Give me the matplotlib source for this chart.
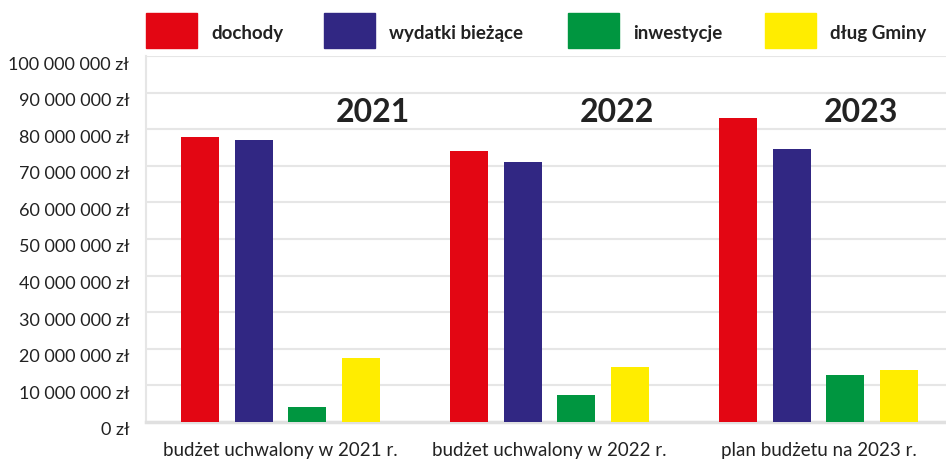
import numpy as np
import matplotlib.pyplot as plt
import matplotlib.transforms as mtransforms
from matplotlib.patches import Rectangle
from matplotlib.ticker import FuncFormatter


# data
categories = ["budżet uchwalony w 2021 r.", "budżet uchwalony w 2022 r.", "plan budżetu na 2023 r."]
years = ["2021", "2022", "2023"]
series_names = ["dochody", "wydatki bieżące", "inwestycje", "dług Gminy"]
dochody = [78.0e6, 74.0e6, 83.0e6]
wydatki = [77.0e6, 71.0e6, 74.6e6]
inwestycje = [4.2e6, 7.4e6, 12.8e6]
dlug = [17.5e6, 15.0e6, 14.2e6]

colors = ["#E30613", "#312783", "#009640", "#FFED00"]
TXT = "#222222"

plt.rcParams['font.family'] = ['Lato', 'DejaVu Sans']

fig = plt.figure(figsize=(9.46, 4.6), dpi=100)
W, H = 946, 460
ax = fig.add_axes([146 / W, 37 / H, 800 / W, 366 / H])

x = np.arange(len(categories))
width = 0.141
step = 0.2
for i, vals in enumerate([dochody, wydatki, inwestycje, dlug]):
    ax.bar(x + (i - 1.5) * step, vals, width, color=colors[i], zorder=3)

# year labels (axes fraction positions)
year_pos = [0.284, 0.589, 0.894]
for xp, yr in zip(year_pos, years):
    ax.text(xp, 0.847, yr, transform=ax.transAxes, fontsize=23,
            fontweight='bold', color=TXT, ha='center', va='center')

ax.set_xlim(-0.5, -0.5 + 800 / 269)
ax.set_ylim(0, 100e6)
ax.set_yticks(np.arange(0, 100e6 + 1, 10e6))
ax.yaxis.set_major_formatter(FuncFormatter(
    lambda v, p: "{:,.0f} zł".format(v).replace(",", " ")))
ax.set_xticks(x)
ax.set_xticklabels(categories)
ax.tick_params(axis='y', length=0, pad=12, labelsize=13, labelcolor=TXT)
ax.tick_params(axis='x', length=0, pad=14, labelsize=13.5, labelcolor=TXT)
# y labels sit a little below their gridlines
offset = mtransforms.ScaledTranslation(0, -0.06, fig.dpi_scale_trans)
for lbl in ax.get_yticklabels():
    lbl.set_transform(lbl.get_transform() + offset)

ax.grid(axis='y', color='#e6e6e6', linewidth=1.5, zorder=0)
for s in ['top', 'right']:
    ax.spines[s].set_visible(False)
ax.spines['left'].set_color('#e6e6e6')
ax.spines['left'].set_linewidth(1.5)
ax.spines['bottom'].set_color('#e0e0e0')
ax.spines['bottom'].set_linewidth(2.5)

# legend along the top
leg_x = [146, 324, 568, 765]
for i, name in enumerate(series_names):
    fig.add_artist(Rectangle((leg_x[i] / W, 1 - 49 / H), 51 / W, 35 / H,
                             transform=fig.transFigure, color=colors[i]))
    fig.text((leg_x[i] + 65) / W, 1 - 34 / H, name, fontsize=13.5,
             fontweight='bold', color=TXT, va='center', ha='left')

fig.savefig("out.png", dpi=100)
